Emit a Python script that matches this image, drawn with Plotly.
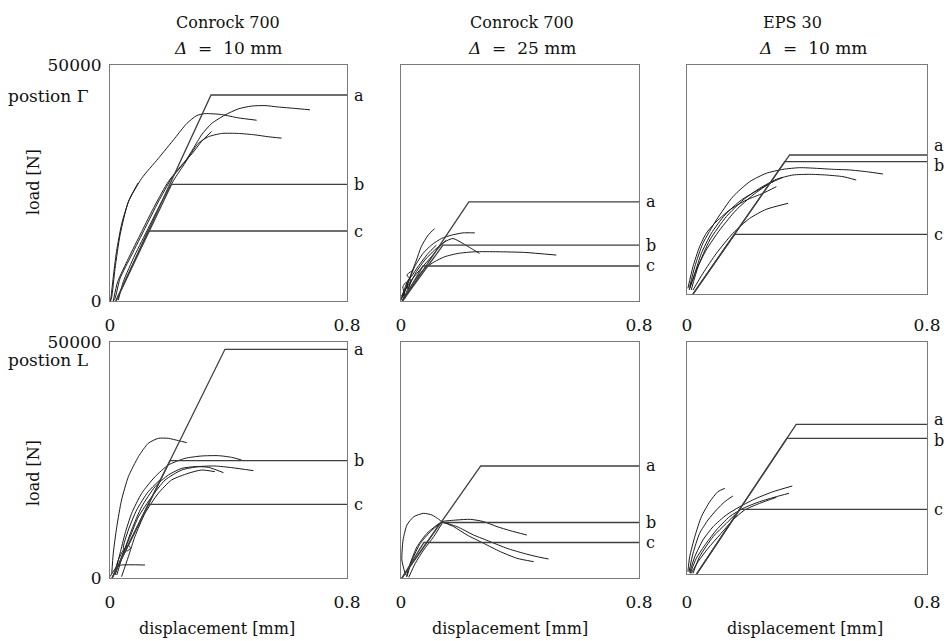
import plotly.graph_objects as go

# ---------------------------------------------------------------
# Load-displacement tests of anchors in three insulation set-ups,
# two load positions (rows).  Straight lines a, b, c are the
# bilinear design models; the thin curves are the test records.
# ---------------------------------------------------------------

X_MAX = 0.8        # displacement [mm]
Y_MAX = 50000      # load [N]

COLUMN_TITLES = ["Conrock 700", "Conrock 700", "EPS 30"]
COLUMN_GAPS = ["<i>Δ</i> &nbsp;= &nbsp;10 mm", "<i>Δ</i> &nbsp;= &nbsp;25 mm", "<i>Δ</i> &nbsp;= &nbsp;10 mm"]
ROW_LABELS = ["postion Γ", "postion L"]
MODEL_NAMES = ["a", "b", "c"]
X_TICKS = [0, 0.8]
X_TICK_TEXT = ["0", "0.8"]
Y_TICKS = [0, 50000]
Y_TICK_TEXT = ["0", "50000"]

# bilinear models: start of the elastic branch, knee displacement, plateau load (a, b, c)
MODEL_START = [0.02, 0.005, 0.02, 0.007, 0.003, 0.032]
KNEE_DISP = [
    [0.341, 0.208, 0.129],
    [0.228, 0.141, 0.074],
    [0.342, 0.326, 0.159],
    [0.388, 0.2025, 0.129],
    [0.268, 0.134, 0.077],
    [0.364, 0.333, 0.176],
]
KNEE_LOAD = [
    [43640, 24720, 14830],
    [21010, 11830, 7420],
    [30350, 28890, 13030],
    [48450, 24850, 15610],
    [23730, 11760, 7520],
    [32260, 29250, 13940],
]

# ---- test records, panel 1: Conrock 700, 10 mm, position Γ
P1_DISP = [
    [0.0, 0.005, 0.017, 0.034, 0.062, 0.107, 0.163, 0.219, 0.259, 0.293, 0.321, 0.377, 0.433, 0.495],
    [0.002, 0.010, 0.022, 0.040, 0.065, 0.095],
    [0.011, 0.017, 0.034, 0.073, 0.118, 0.163, 0.208, 0.253, 0.281, 0.309, 0.343, 0.388, 0.433, 0.478, 0.523, 0.568, 0.624, 0.675],
    [0.028, 0.045, 0.084, 0.129, 0.174, 0.219, 0.253, 0.270, 0.298, 0.332, 0.377, 0.433, 0.489, 0.534, 0.579],
    [0.011, 0.026, 0.062, 0.107, 0.152, 0.197, 0.242, 0.278, 0.309, 0.343],
]
P1_LOAD = [
    [0, 600, 6900, 14000, 21000, 26000, 30200, 34500, 37600, 39300, 39700, 39500, 38800, 38300],
    [0, 4500, 10500, 16500, 21500, 25000],
    [0, 560, 4800, 9750, 15400, 21000, 26000, 29500, 32300, 35200, 37600, 39400, 40700, 41300, 41400, 41100, 40800, 40500],
    [200, 4100, 9750, 15400, 21000, 26000, 29200, 30900, 33400, 34800, 35500, 35500, 35200, 34800, 34500],
    [0, 4100, 9000, 14700, 20300, 25300, 28800, 31300, 33800, 35900],
]

# ---- panel 2: Conrock 700, 25 mm, position Γ
P2_DISP = [
    [0.003, 0.018, 0.035, 0.052, 0.068, 0.091, 0.113],
    [0.007, 0.024, 0.046, 0.074, 0.102, 0.136, 0.169, 0.208, 0.248],
    [0.010, 0.029, 0.052, 0.080, 0.113, 0.147, 0.175, 0.208, 0.236, 0.264],
    [0.012, 0.029, 0.052, 0.080, 0.113, 0.147, 0.192, 0.248, 0.326, 0.416, 0.522],
    [0.001, 0.018, 0.040, 0.068, 0.102, 0.130, 0.152],
    [0.0, 0.007, 0.024, 0.035, 0.057, 0.091, 0.119],
    [0.004, 0.012, 0.006, 0.018, 0.024, 0.032, 0.020, 0.040],
]
P2_LOAD = [
    [630, 3080, 5880, 8680, 11490, 13940, 15340],
    [980, 3780, 7280, 10080, 11840, 13240, 13940, 14430, 14430],
    [630, 3430, 6230, 8680, 10790, 12540, 13240, 12190, 11140, 10080],
    [420, 2730, 4830, 6930, 8330, 9380, 10080, 10430, 10430, 10290, 9730],
    [980, 2730, 4830, 6930, 9380, 11490, 12890],
    [140, 1680, 4480, 5180, 7280, 10080, 11840],
    [0, 1500, 3000, 4000, 2500, 4500, 5500, 6500],
]

# ---- panel 3: EPS 30, 10 mm, position Γ
P3_DISP = [
    [0.009, 0.026, 0.053, 0.098, 0.153, 0.209, 0.264, 0.320, 0.376, 0.431, 0.487, 0.542, 0.598, 0.653],
    [0.014, 0.037, 0.076, 0.131, 0.187, 0.242, 0.298, 0.353, 0.409, 0.464, 0.520, 0.564],
    [0.020, 0.053, 0.098, 0.153, 0.209, 0.264, 0.337],
    [0.009, 0.031, 0.064, 0.109, 0.164, 0.220, 0.276, 0.320],
    [0.003, 0.020, 0.042, 0.064, 0.092, 0.142, 0.198, 0.253, 0.298],
    [0.007, 0.026, 0.048, 0.081, 0.126, 0.181, 0.237, 0.287],
]
P3_LOAD = [
    [1600, 5970, 11060, 16160, 21250, 24530, 26350, 27220, 27580, 27440, 27220, 27080, 26710, 26200],
    [870, 5970, 11790, 16890, 20520, 23070, 25040, 25980, 26130, 25980, 25620, 24890],
    [870, 4510, 8880, 13250, 16520, 18490, 19800],
    [1240, 5240, 9610, 13970, 18340, 21620, 24160, 25470],
    [1240, 5970, 10340, 13250, 15430, 18340, 20520, 21980, 23440],
    [870, 4510, 8880, 13250, 17250, 20520, 22710, 24530],
]

# ---- panel 4: Conrock 700, 10 mm, position L
P4_DISP = [
    [0.006, 0.011, 0.023, 0.039, 0.062, 0.096, 0.129, 0.163, 0.197, 0.231, 0.259],
    [0.017, 0.034, 0.051, 0.073, 0.107, 0.152, 0.197, 0.253, 0.309, 0.366, 0.411, 0.444],
    [0.023, 0.045, 0.073, 0.107, 0.152, 0.197, 0.242, 0.287, 0.332, 0.383],
    [0.017, 0.039, 0.068, 0.096, 0.141, 0.186, 0.242, 0.298, 0.354, 0.411, 0.484],
    [0.039, 0.062, 0.084, 0.118, 0.163, 0.208, 0.264, 0.309, 0.354],
    [0.0, 0.023, 0.039, 0.118],
    [0.011, 0.028, 0.045, 0.062, 0.069, 0.057, 0.045, 0.062, 0.090, 0.129, 0.174],
]
P4_LOAD = [
    [990, 5230, 10880, 16530, 21470, 25710, 28530, 29590, 29590, 29100, 28670],
    [990, 5230, 9460, 13700, 17940, 21470, 23940, 25350, 25850, 25920, 25560, 25000],
    [640, 5230, 10170, 15110, 19350, 21820, 23230, 23590, 23450, 22320],
    [640, 4520, 8760, 12990, 17230, 20760, 22880, 23590, 23730, 23380, 22740],
    [280, 4520, 8760, 13700, 17940, 20760, 22180, 22880, 22530],
    [280, 2400, 2750, 2750],
    [280, 3810, 5930, 6990, 6290, 5720, 6290, 10170, 14410, 18290, 21120],
]

# ---- panel 5: Conrock 700, 25 mm, position L
P5_DISP = [
    [0.015, 0.003, 0.007, 0.020, 0.043, 0.076, 0.104, 0.127, 0.138, 0.177, 0.222, 0.278, 0.334, 0.390, 0.446],
    [0.018, 0.031, 0.054, 0.087, 0.121, 0.138, 0.188, 0.233, 0.278, 0.323, 0.367, 0.423],
    [0.020, 0.037, 0.065, 0.099, 0.138, 0.188, 0.244, 0.300, 0.356, 0.412, 0.457, 0.496],
    [0.026, 0.048, 0.076, 0.110, 0.138],
]
P5_LOAD = [
    [640, 3810, 8050, 11230, 12990, 13700, 13350, 12430, 11940, 10880, 9110, 7340, 5580, 4170, 3460],
    [280, 3110, 6640, 9460, 11230, 11940, 12290, 12430, 11940, 10880, 10030, 9110],
    [280, 3810, 7340, 9820, 11720, 10880, 9110, 7700, 6290, 5230, 4520, 4030],
    [140, 3110, 5930, 8760, 11580],
]

# ---- panel 6: EPS 30, 10 mm, position L
P6_DISP = [
    [0.003, 0.009, 0.026, 0.048, 0.076, 0.103, 0.126],
    [0.007, 0.020, 0.042, 0.070, 0.098, 0.126, 0.153],
    [0.009, 0.026, 0.053, 0.087, 0.131, 0.176, 0.231, 0.287, 0.351],
    [0.011, 0.031, 0.064, 0.098, 0.142, 0.187, 0.242, 0.298, 0.340],
    [0.014, 0.037, 0.070, 0.109, 0.153, 0.192, 0.242, 0.298],
    [0.020, 0.042, 0.087, 0.131, 0.176],
]
P6_LOAD = [
    [500, 3740, 8050, 12360, 15590, 17740, 18460],
    [500, 4450, 8760, 11640, 13790, 15590, 16810],
    [290, 3740, 7330, 10200, 12720, 14510, 16310, 17740, 18970],
    [140, 3380, 6610, 9480, 12360, 14150, 15590, 16670, 17390],
    [140, 2660, 5530, 8410, 11640, 13790, 15230, 16520],
    [140, 3740, 8050, 10920, 13790],
]

TEST_DISP = [P1_DISP, P2_DISP, P3_DISP, P4_DISP, P5_DISP, P6_DISP]
TEST_LOAD = [P1_LOAD, P2_LOAD, P3_LOAD, P4_LOAD, P5_LOAD, P6_LOAD]

# label nudges (px) for the model names where two plateaus sit close together
LABEL_SHIFT = [
    [0, 0, 0], [0, 0, 0], [10, -4, 0],
    [0, 0, 0], [0, 0, 0], [5, -2, 0],
]

# ---------------------------------------------------------------
W, H = 949, 641
FONT = "DejaVu Serif"
COL_PX = [(110, 347), (401, 639), (687, 927)]
ROW_PX = [[(65, 301), (65, 301), (65, 294)],
          [(342, 578), (342, 578), (342, 574)]]

fig = go.Figure()
layout_axes = {}
annotations = []


def txt(size):
    return dict(family=FONT, size=size, color="#111")


for p in range(6):
    r, c = divmod(p, 3)
    n = p + 1
    xa = "x" if n == 1 else f"x{n}"
    ya = "y" if n == 1 else f"y{n}"
    x0, x1 = COL_PX[c]
    top, bot = ROW_PX[r][c]

    # test curves
    for d, l in zip(TEST_DISP[p], TEST_LOAD[p]):
        fig.add_trace(go.Scatter(
            x=d, y=l, mode="lines", xaxis=xa, yaxis=ya,
            line=dict(color="#1a1a1a", width=1.0, shape="spline", smoothing=0.6),
            showlegend=False, hoverinfo="skip"))

    # bilinear models a, b, c
    for k in range(3):
        fig.add_trace(go.Scatter(
            x=[MODEL_START[p], KNEE_DISP[p][k], X_MAX],
            y=[0, KNEE_LOAD[p][k], KNEE_LOAD[p][k]],
            mode="lines", xaxis=xa, yaxis=ya,
            line=dict(color="#3f3f3f", width=1.3),
            showlegend=False, hoverinfo="skip"))
        annotations.append(dict(
            x=X_MAX, y=KNEE_LOAD[p][k], xref=xa, yref=ya,
            text=MODEL_NAMES[k], showarrow=False,
            xanchor="left", yanchor="middle", xshift=5,
            yshift=LABEL_SHIFT[p][k], font=txt(16)))

    standoff = 9 + ((ROW_PX[r][0][1] - bot) if c == 2 else 0)
    key_x = "xaxis" if n == 1 else f"xaxis{n}"
    key_y = "yaxis" if n == 1 else f"yaxis{n}"
    layout_axes[key_x] = dict(
        domain=[x0 / W, x1 / W], anchor=ya, range=[0, X_MAX], automargin=False,
        showgrid=False, zeroline=False, showline=True, mirror=True,
        linecolor="#7a7a7a", linewidth=1, ticks="",
        tickvals=X_TICKS, ticktext=X_TICK_TEXT,
        ticklabelstandoff=standoff, tickfont=txt(17))
    layout_axes[key_y] = dict(
        domain=[1 - bot / H, 1 - top / H], anchor=xa, range=[0, Y_MAX], automargin=False,
        showgrid=False, zeroline=False, showline=True, mirror=True,
        linecolor="#7a7a7a", linewidth=1, ticks="",
        tickvals=Y_TICKS, ticktext=Y_TICK_TEXT,
        showticklabels=(c == 0), ticklabelstandoff=4, tickfont=txt(17))

# column headings
title_x = [228, 522, 792]
gap_x = [228, 522, 813]
for c in range(3):
    annotations.append(dict(x=title_x[c] / W, y=1 - 22 / H, xref="paper", yref="paper",
                            text=COLUMN_TITLES[c], showarrow=False,
                            xanchor="center", yanchor="middle", font=txt(16)))
    annotations.append(dict(x=gap_x[c] / W, y=1 - 48 / H, xref="paper", yref="paper",
                            text=COLUMN_GAPS[c], showarrow=False,
                            xanchor="center", yanchor="middle", font=txt(17)))

# x axis titles
disp_x = [217, 510, 805]
for c in range(3):
    annotations.append(dict(x=disp_x[c] / W, y=1 - 628 / H, xref="paper", yref="paper",
                            text="displacement [mm]", showarrow=False,
                            xanchor="center", yanchor="middle", font=txt(16)))

# row labels and y axis titles
row_label_y = [96, 360]
load_y = [182, 473]
for r in range(2):
    annotations.append(dict(x=6 / W, y=1 - row_label_y[r] / H, xref="paper", yref="paper",
                            text=ROW_LABELS[r], showarrow=False,
                            xanchor="left", yanchor="middle", font=txt(17)))
    annotations.append(dict(x=33 / W, y=1 - load_y[r] / H, xref="paper", yref="paper",
                            text="load [N]", showarrow=False, textangle=-90,
                            xanchor="center", yanchor="middle", font=txt(16)))

fig.update_layout(
    width=W, height=H,
    margin=dict(l=0, r=0, t=0, b=0),
    paper_bgcolor="white", plot_bgcolor="white",
    annotations=annotations,
    **layout_axes,
)

fig.write_html("out.html")
